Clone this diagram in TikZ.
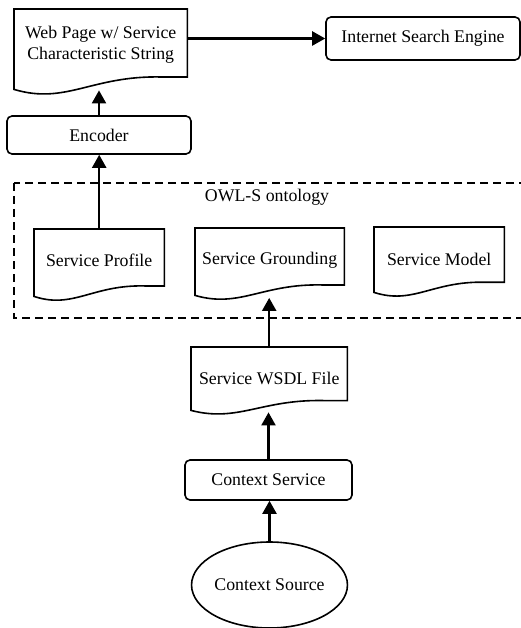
\documentclass[tikz,border=0pt]{standalone}
\usepackage{fontspec}
\setmainfont{Liberation Serif}
\usetikzlibrary{arrows.meta,shapes.geometric,calc}
\newcommand\docshape[7]{%
  \node[inner sep=0pt, minimum width=#4pt, minimum height=#5pt, anchor=north west] (#1) at (#2,#3) {};
  \draw[docline] (#1.south west) -- (#1.north west) -- (#1.north east)
    -- ($(#1.north east)+(0,0.85*#5)$) -- ($(#1.north west)+(0.85*#4,0.85*#5)$)
    .. controls ($(#1.north west)+(0.45*#4,0.83*#5)$) and ($(#1.north west)+(0.3*#4,1.2*#5)$) .. (#1.south west) -- cycle;
  \node[align=center, inner sep=0pt] (#1-t) at ($(#1.center)+(0,#7)$) {#6};
}
\begin{document}
\begin{tikzpicture}[x=1pt,y=-1pt,
  every node/.style={font=\fontsize{17.8}{21}\selectfont},
  box/.style={draw, line width=1.6pt, rounded corners=5pt, inner sep=0pt},
  docline/.style={draw, line width=1.6pt},
  arr/.style={line width=2.2pt, -{Triangle[width=14pt,length=13pt]}},
  ]
\clip (0,0) rectangle (521,628);
\fill[white] (0,0) rectangle (521,628);

% dashed ontology frame
\draw[line width=1.6pt, dash pattern=on 8pt off 5pt] (14,183) rectangle (532,318);
\node (owl) at (267,197) {OWL-S ontology};

% document shapes
\docshape{web}{14}{9}{173}{80}{Web Page w/ Service\\Characteristic String}{-4.5}
\docshape{prof}{34}{229}{130}{67}{Service Profile}{-2}
\docshape{grd}{195}{228}{149}{67}{Service Grounding}{-1.5}
\docshape{mod}{374}{227}{130}{65}{Service Model}{0}
\docshape{wsdl}{191}{347}{156}{63}{Service WSDL File}{0}

% boxes
\node[box, minimum width=194pt, minimum height=43pt] (ise) at (423,38.5) {Internet Search Engine};
\node[box, minimum width=184pt, minimum height=38pt] (enc) at (99,135) {Encoder};
\node[box, minimum width=167pt, minimum height=40pt] (ctx) at (268.5,480) {Context Service};
\node[draw, ellipse, line width=1.6pt, minimum width=135pt, minimum height=86pt, inner sep=0pt] (src) at (269.5,585) {Context Source};

% connectors
\draw[arr] (web.east |- ise.west) -- (ise.west);
\draw[arr] (enc.north) -- ($(enc.north |- web.south)+(0,1)$);
\draw[arr] (prof.north) -- (prof.north |- enc.south);
\draw[arr] (wsdl.north) -- ($(wsdl.north |- grd.south)+(0,2.5)$);
\draw[arr] (ctx.north) -- ($(ctx.north |- wsdl.south)+(0,2)$);
\draw[arr] (src.north) -- (src.north |- ctx.south);
\end{tikzpicture}
\end{document}
